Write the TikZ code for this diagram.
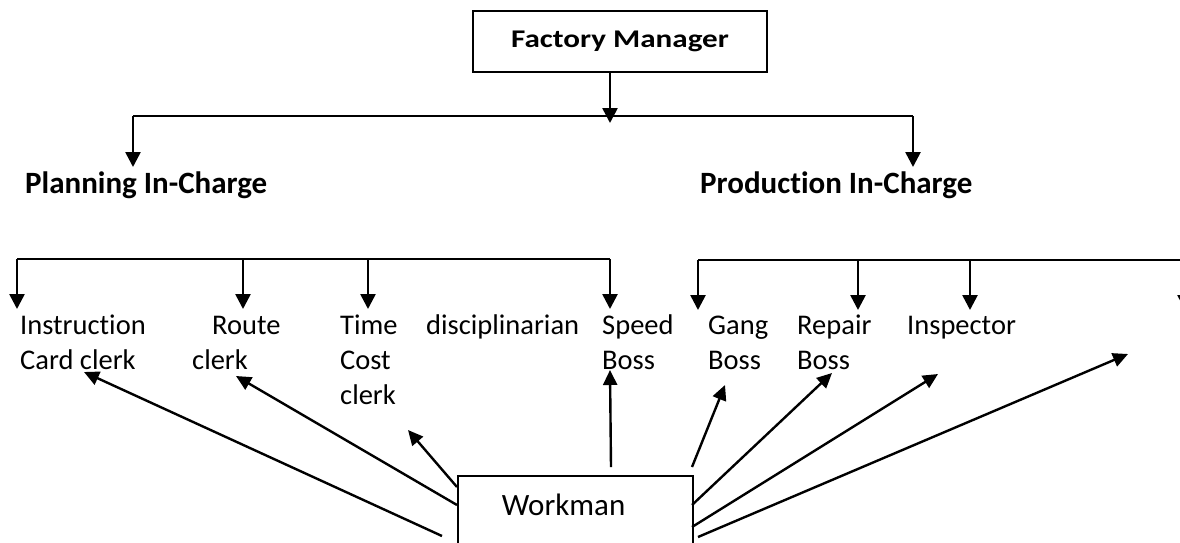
\documentclass[tikz,border=0pt]{standalone}
\usepackage{fontspec}
\usepackage{graphicx}
\setmainfont{Carlito}[Ligatures=NoCommon]
\usetikzlibrary{arrows.meta}
\begin{document}
\begin{tikzpicture}[x=1pt,y=-1pt,
  conn/.style={line width=2.6pt},
  arr/.style={line width=2.6pt,-{Triangle[width=15pt,length=15pt]}},
  darr/.style={line width=2.4pt,-{Triangle[width=14pt,length=15pt]}},
  box/.style={draw,line width=1.8pt},
  lbl/.style={inner sep=0pt,anchor=base west,align=left,font=\fontsize{28.5}{35}\selectfont},
  blbl/.style={inner sep=0pt,anchor=base west,font=\fontsize{31}{37}\selectfont\bfseries}]
\useasboundingbox (0,0) rectangle (1180,542);
\clip (0,0) rectangle (1180,542);

% Factory manager
\node[box,minimum width=294pt,minimum height=61pt,inner sep=0pt] (fm) at (620,41.5)
  {\scalebox{1.22}[1]{\fontsize{25.5}{30}\selectfont\bfseries Factory Manager}};
\coordinate (fmj) at (610,123);
\draw[arr] (fm.south -| fmj) -- (fmj);

% top bar
\coordinate (tl) at (133,116);
\coordinate (tr) at (913,116);
\draw[conn] (tl) -- (tr);
\node[blbl] (plan) at (25,193) {Planning In-Charge};
\node[blbl] (prod) at (700,193) {Production In-Charge};
\coordinate (plantip) at (133,167);
\coordinate (prodtip) at (913,167);
\draw[arr] (tl) -- (plantip);
\draw[arr] (tr) -- (prodtip);

% planning bar
\coordinate (pl) at (17,259);
\coordinate (pr) at (610,259);
\draw[conn] (pl) -- (pr);
\draw[arr] (pl) -- ++(0,50);
\draw[arr] (243,259) -- ++(0,50);
\draw[arr] (368,259) -- ++(0,50);
\draw[arr] (pr) -- ++(0,50);

% production bar
\coordinate (ql) at (698,260);
\coordinate (qr) at (1200,260);
\draw[conn] (ql) -- (qr);
\draw[arr] (ql) -- ++(0,50);
\draw[arr] (858,260) -- ++(0,50);
\draw[arr] (970,260) -- ++(0,50);
\draw[arr] (1185,260) -- ++(0,50);

% functional foremen / clerks (anchor = baseline of last line)
\node[lbl] (instr) at (20,369) {Instruction\\Card clerk};
\node[lbl] (route) at (192,369) {\hspace*{20pt}Route\\clerk};
\node[lbl] (time) at (340,404) {Time\\Cost\\clerk};
\node[lbl] (disc) at (426,334) {disciplinarian};
\node[lbl] (speed) at (602,369) {Speed\\Boss};
\node[lbl] (gang) at (708,369) {Gang\\Boss};
\node[lbl] (repair) at (797,369) {Repair\\Boss};
\node[lbl] (insp) at (907,334) {Inspector};

% Workman
\node[box,anchor=north west,inner sep=0pt,minimum width=235pt,text height=40pt,text depth=60pt] (work) at (457,475)
  {\makebox[235pt][l]{\hspace*{44pt}\fontsize{31}{37}\selectfont Workman}};

% arrows from workman
\coordinate (w1) at (442,536); \coordinate (t1) at (84,372);
\coordinate (w2) at (457,505); \coordinate (t2) at (236,376);
\coordinate (w3) at (457,487); \coordinate (t3) at (408,430);
\coordinate (w4) at (611,467); \coordinate (t4) at (610,370);
\coordinate (w5) at (692,467); \coordinate (t5) at (725,385);
\coordinate (w6) at (692,505); \coordinate (t6) at (832,373);
\coordinate (w7) at (692,527); \coordinate (t7) at (938,374);
\coordinate (w8) at (698,537); \coordinate (t8) at (1128,354);
\foreach \i in {1,...,8} {\draw[darr] (w\i) -- (t\i);}
\end{tikzpicture}
\end{document}
